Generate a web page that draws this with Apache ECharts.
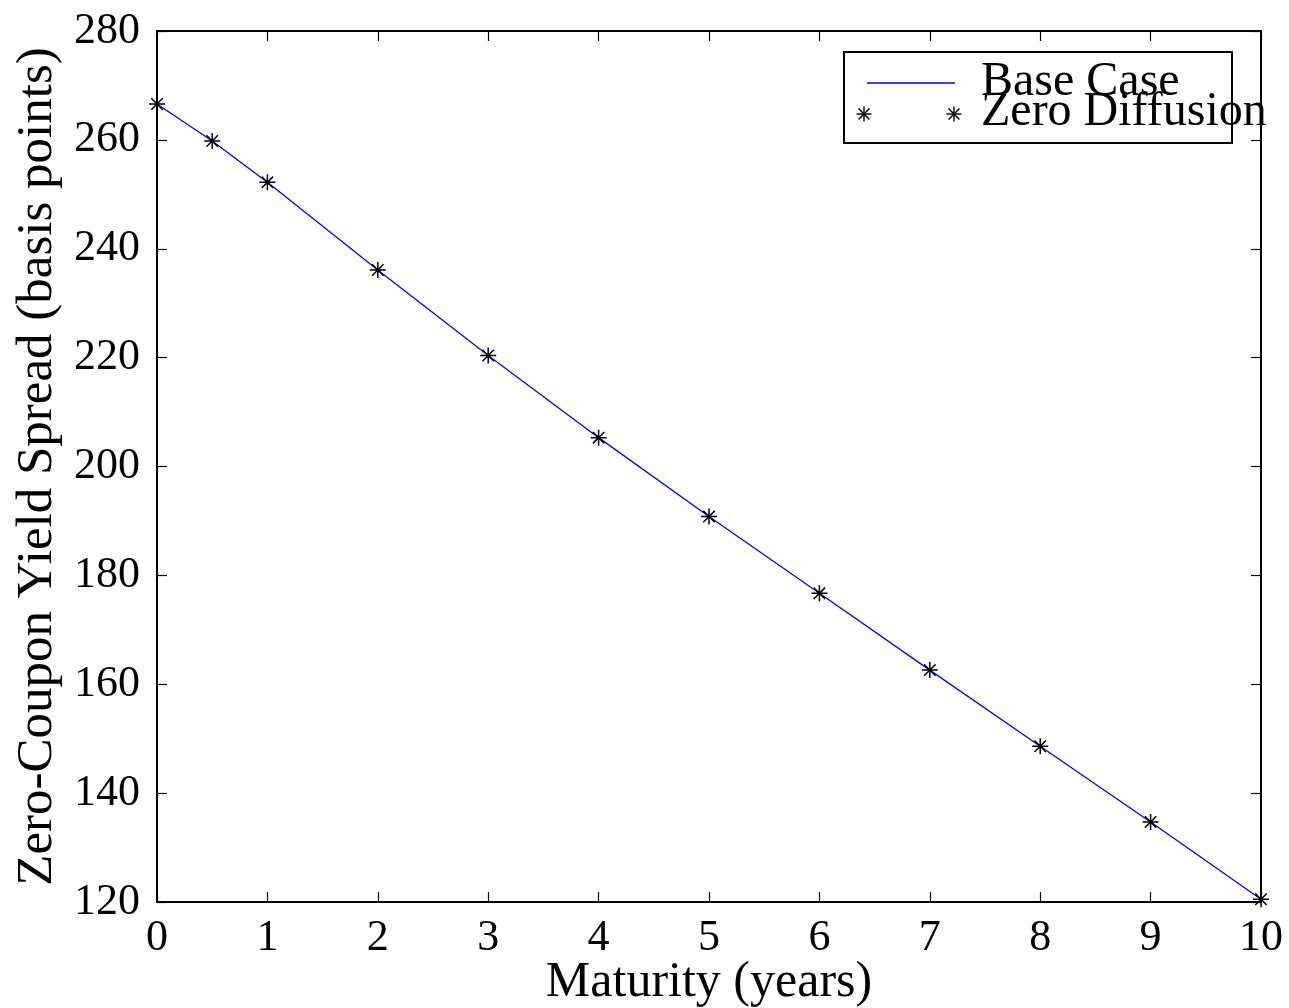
<!DOCTYPE html>
<html>
<head>
<meta charset="utf-8">
<title>Zero-Coupon Yield Spread</title>
<script src="https://cdn.jsdelivr.net/npm/echarts@6/dist/echarts.min.js"></script>
<style>
  html, body { margin: 0; padding: 0; background: #fff; overflow: hidden; }
  #chart { width: 1289px; height: 1008px; }
</style>
</head>
<body>
<div id="chart"></div>
<script>
// Maturities (years) and the spreads (basis points) for each scenario
const maturities = [0, 0.5, 1, 2, 3, 4, 5, 6, 7, 8, 9, 10];
const baseCase = [266.6, 259.8, 252.2, 236.1, 220.4, 205.3, 190.8, 176.7, 162.6, 148.6, 134.7, 120.5];
const zeroDiffusion = [266.6, 259.8, 252.2, 236.1, 220.4, 205.3, 190.8, 176.7, 162.6, 148.6, 134.7, 120.5];
const seriesNames = ['Base Case', 'Zero Diffusion'];
const xTitle = 'Maturity (years)';
const yTitle = 'Zero-Coupon Yield Spread (basis points)';

const FONT = '"Liberation Serif", "Times New Roman", serif';
const ASTERISK = 'path://M0,7L14,7M7,0L7,14M2,2L12,12M12,2L2,12';

const pairs = (xs, ys) => xs.map((x, i) => [x, ys[i]]);

// asterisk glyph for the legend, built from four short strokes
function asteriskLines(cx, cy, r) {
  const d = r * 0.72;
  const segs = [[-r, 0, r, 0], [0, -r, 0, r], [-d, -d, d, d], [d, -d, -d, d]];
  return segs.map(s => ({
    type: 'line',
    shape: { x1: cx + s[0], y1: cy + s[1], x2: cx + s[2], y2: cy + s[3] },
    style: { stroke: '#000', lineWidth: 1.4 }
  }));
}

const tickCommon = {
  show: true, inside: true, length: 10,
  lineStyle: { color: '#000', width: 1.2 }
};
const lineCommon = { show: true, onZero: false, lineStyle: { color: '#000', width: 2 } };

const chart = echarts.init(document.getElementById('chart'), null, { renderer: 'canvas', width: 1289, height: 1008 });

chart.setOption({
  backgroundColor: '#fff',
  animation: false,
  grid: {
    left: 157, top: 31, width: 1104, height: 871,
    containLabel: false, outerBoundsMode: 'none'
  },
  xAxis: [
    {
      type: 'value', min: 0, max: 10, interval: 1, position: 'bottom',
      name: xTitle, nameLocation: 'middle', nameGap: 56, nameMoveOverlap: false,
      nameTextStyle: { fontFamily: FONT, fontSize: 50, color: '#000' },
      axisLine: lineCommon, axisTick: tickCommon,
      axisLabel: { fontFamily: FONT, fontSize: 44, color: '#000', margin: 14 },
      splitLine: { show: false }
    },
    {
      type: 'value', min: 0, max: 10, interval: 1, position: 'top',
      axisLine: lineCommon, axisTick: tickCommon,
      axisLabel: { show: false }, splitLine: { show: false }
    }
  ],
  yAxis: [
    {
      type: 'value', min: 120, max: 280, interval: 20, position: 'left',
      name: yTitle, nameLocation: 'middle', nameGap: 94, nameRotate: 90, nameMoveOverlap: false,
      nameTextStyle: { fontFamily: FONT, fontSize: 51, color: '#000' },
      axisLine: lineCommon, axisTick: tickCommon,
      axisLabel: { fontFamily: FONT, fontSize: 44, color: '#000', margin: 17 },
      splitLine: { show: false }
    },
    {
      type: 'value', min: 120, max: 280, interval: 20, position: 'right',
      axisLine: lineCommon, axisTick: tickCommon,
      axisLabel: { show: false }, splitLine: { show: false }
    }
  ],
  series: [
    {
      name: seriesNames[0], type: 'line',
      data: pairs(maturities, baseCase),
      showSymbol: false, clip: false,
      lineStyle: { color: '#0000ff', width: 1.3 },
      z: 2
    },
    {
      name: seriesNames[1], type: 'scatter',
      data: pairs(maturities, zeroDiffusion),
      symbol: ASTERISK, symbolSize: 16, clip: false,
      itemStyle: { color: 'rgba(0,0,0,0)', borderColor: '#000', borderWidth: 1.5, opacity: 1 },
      z: 3
    }
  ],
  graphic: [
    {
      type: 'group', x: 844, y: 52, z: 10,
      children: [
        { type: 'rect', shape: { x: 0, y: 0, width: 388, height: 91 },
          style: { fill: '#fff', stroke: '#000', lineWidth: 2 } },
        { type: 'line', shape: { x1: 23, y1: 31, x2: 111, y2: 31 },
          style: { stroke: '#0000ff', lineWidth: 1.3 } }
      ]
        .concat(asteriskLines(20, 62, 7.5))
        .concat(asteriskLines(110, 62, 7.5))
        .concat([
          { type: 'text', x: 137, y: 30,
            style: { text: seriesNames[0], font: '48px ' + FONT, fill: '#000', textVerticalAlign: 'middle' } },
          { type: 'text', x: 137, y: 60,
            style: { text: seriesNames[1], font: '48px ' + FONT, fill: '#000', textVerticalAlign: 'middle' } }
        ])
    }
  ]
});
</script>
</body>
</html>
